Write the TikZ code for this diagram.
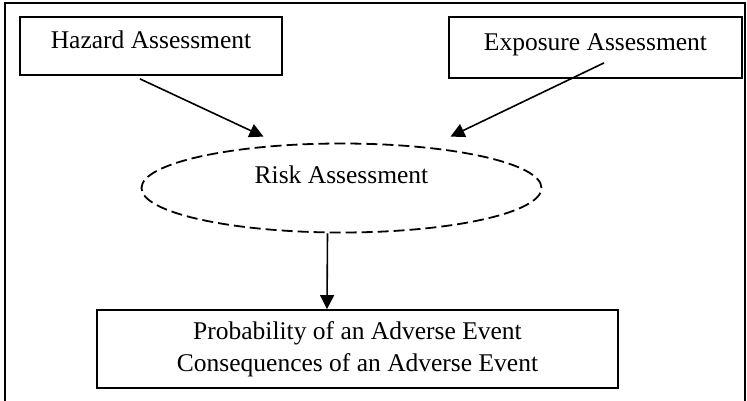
\documentclass[tikz,border=0pt]{standalone}
\usepackage{fontspec}
\setmainfont{Liberation Serif}
\usetikzlibrary{shapes.geometric,arrows.meta}

\begin{document}
\begin{tikzpicture}[x=1pt,y=-1pt,line width=1.8pt,
    font=\fontsize{25.5}{32}\selectfont,
    box/.style={draw,inner sep=0pt,text height=20pt,text depth=14pt},
    arr/.style={line width=1.6pt,-{Triangle[length=14pt,width=14pt]}}]
      \useasboundingbox (0,0) rectangle (747,401);
      \draw (5,401) |- (745,3) -- (745,401);
      \node[box,minimum width=262,minimum height=58] (hazard) at (151,46)
        {Hazard Assessment};
      \node[box,minimum width=293,minimum height=61] (exposure) at (595.5,47.5)
        {Exposure Assessment};
      \node[draw,ellipse,dash pattern=on 11pt off 5pt,inner sep=0pt,
        text height=17pt,text depth=26pt,
        minimum width=400,minimum height=89] (risk) at (341.5,188)
        {Risk Assessment};
      \node[draw,align=center,minimum width=521,minimum height=78] (outcome)
        at (357.5,349)
        {Probability of an Adverse Event\\Consequences of an Adverse Event};
      \draw[arr] ([xshift=-11pt,yshift=-3pt]hazard.south)
        -- ([xshift=-78pt,yshift=6pt]risk.north);
      \draw[arr] ([xshift=8.5pt,yshift=16pt]exposure.south)
        -- ([xshift=109pt,yshift=6pt]risk.north);
      \draw[arr] ([xshift=-14pt]risk.south) -- ([xshift=-30.5pt]outcome.north);
    \end{tikzpicture}
\end{document}
